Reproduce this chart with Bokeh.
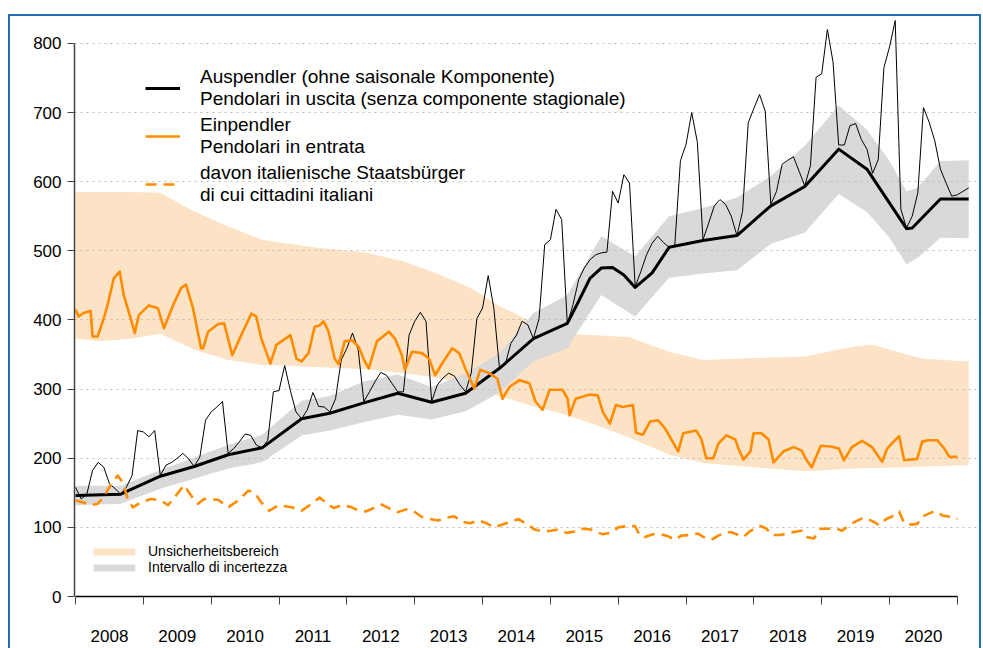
import numpy as np
from bokeh.plotting import figure
from bokeh.models import Range1d, FixedTicker, Legend, LegendItem
from bokeh.embed import file_html
from bokeh.resources import INLINE

FONT = "Liberation Sans"
BLUE = "#1f6db4"
ORANGE = "#FF8C00"

# ---------------- data ----------------
years = list(range(2008, 2021))

# Auspendler, monthly raw values Jan 2008 .. Mar 2021
out_raw = [
    158, 141, 148, 182, 194, 187, 163, 156, 148, 158, 175, 240,   # 2008
    238, 231, 240, 175, 190, 194, 200, 207, 199, 188, 202, 255,   # 2009
    267, 274, 282, 207, 214, 224, 235, 233, 219, 215, 226, 296,   # 2010
    298, 334, 298, 267, 257, 270, 295, 275, 274, 267, 286, 342,   # 2011
    359, 381, 357, 282, 296, 311, 324, 320, 308, 296, 296, 378,   # 2012
    398, 411, 398, 282, 306, 316, 323, 319, 306, 296, 323, 402,   # 2013
    417, 464, 417, 330, 335, 366, 378, 398, 393, 373, 402, 509,   # 2014
    516, 560, 545, 394, 422, 458, 475, 487, 494, 497, 498, 586,   # 2015
    569, 610, 598, 448, 470, 494, 511, 521, 512, 505, 507, 630,   # 2016
    654, 700, 657, 516, 540, 565, 574, 567, 550, 522, 557, 685,   # 2017
    706, 726, 702, 567, 586, 625, 631, 636, 615, 594, 623, 751,   # 2018
    756, 820, 773, 653, 653, 681, 684, 661, 647, 612, 632, 765,   # 2019
    795, 833, 560, 533, 550, 584, 707, 686, 659, 618, 598, 579,   # 2020
    581, 586, 591,                                                # 2021
]
raw_month = list(range(len(out_raw)))

# Auspendler without seasonal component (month index from Jan 2008)
trend_month = [0, 8, 15, 21, 27, 33, 40, 45, 51, 57, 63, 69, 75, 81, 87, 89, 91, 93, 95,
               97, 99, 102, 105, 111, 117, 123, 129, 135, 140, 147, 148, 153, 158]
trend_value = [146, 148, 174, 188, 205, 215, 257, 265, 280, 294, 281, 294, 330, 373, 395, 427,
               460, 475, 476, 465, 447, 468, 505, 515, 522, 565, 593, 647, 618, 532, 533, 575, 575]

# Uncertainty range of the Auspendler trend (grey)
grey_month = [0, 8, 15, 27, 33, 40, 45, 51, 57, 63, 69, 75, 81, 87, 93, 99, 105, 111, 117,
              123, 129, 135, 140, 144, 147, 149, 153, 158]
grey_high = [160, 160, 183, 219, 234, 283, 290, 311, 321, 303, 322, 352, 410, 436, 521, 492,
             550, 562, 577, 608, 652, 710, 675, 630, 586, 591, 630, 631]
grey_low = [132, 134, 156, 185, 194, 233, 240, 252, 263, 256, 268, 295, 340, 359, 436, 405,
            461, 467, 472, 510, 526, 582, 556, 519, 480, 490, 519, 518]

# Uncertainty range of the Einpendler (peach)
peach_month = [0, 4, 10, 15, 21, 27, 33, 42, 51, 58, 63, 70, 75, 81, 87, 92, 98, 105, 111,
               120, 129, 138, 141, 147, 150, 158]
peach_high = [585, 585, 585, 584, 557, 535, 516, 505, 498, 485, 470, 446, 420, 396, 380, 378,
              375, 354, 342, 345, 347, 362, 364, 350, 344, 340]
peach_low = [373, 369, 373, 380, 357, 342, 335, 332, 329, 323, 318, 306, 290, 275, 262, 248,
             230, 205, 193, 187, 181, 185, 186, 187, 188, 190]

# Einpendler (decimal year, value)
in_time = [2008.000, 2008.044, 2008.118, 2008.222, 2008.252, 2008.326, 2008.415, 2008.474,
           2008.563, 2008.651, 2008.711, 2008.814, 2008.874, 2008.933, 2009.081, 2009.214,
           2009.303, 2009.451, 2009.555, 2009.629, 2009.732, 2009.851, 2009.880, 2009.954,
           2010.102, 2010.191, 2010.310, 2010.443, 2010.591, 2010.665, 2010.739, 2010.872,
           2010.961, 2011.168, 2011.257, 2011.331, 2011.435, 2011.524, 2011.598, 2011.657,
           2011.731, 2011.820, 2011.879, 2011.968, 2012.072, 2012.175, 2012.264, 2012.323,
           2012.442, 2012.619, 2012.708, 2012.812, 2012.856, 2012.960, 2013.108, 2013.212,
           2013.301, 2013.404, 2013.552, 2013.656, 2013.745, 2013.878, 2013.967, 2014.100,
           2014.219, 2014.293, 2014.396, 2014.544, 2014.692, 2014.781, 2014.885, 2014.988,
           2015.181, 2015.255, 2015.284, 2015.373, 2015.580, 2015.699, 2015.773, 2015.877,
           2015.966, 2016.069, 2016.217, 2016.262, 2016.365, 2016.469, 2016.588, 2016.691,
           2016.884, 2016.958, 2017.150, 2017.224, 2017.298, 2017.402, 2017.476, 2017.594,
           2017.728, 2017.772, 2017.846, 2017.950, 2017.995, 2018.113, 2018.216, 2018.290,
           2018.438, 2018.586, 2018.705, 2018.764, 2018.853, 2018.986, 2019.134, 2019.253,
           2019.327, 2019.445, 2019.594, 2019.742, 2019.891, 2019.965, 2020.039, 2020.141,
           2020.215, 2020.407, 2020.482, 2020.571, 2020.704, 2020.807, 2020.881, 2021.000]
in_value = [415, 405, 410, 413, 376, 376, 402, 422, 460, 470, 436, 402, 381, 407, 421, 417,
            388, 424, 446, 451, 417, 359, 359, 383, 394, 395, 349, 378, 409, 405, 373, 337,
            364, 378, 344, 340, 352, 390, 392, 398, 383, 344, 336, 369, 371, 361, 340, 330,
            369, 383, 373, 349, 328, 354, 352, 344, 320, 337, 359, 352, 330, 301, 328, 323,
            315, 286, 303, 313, 308, 282, 270, 299, 299, 286, 262, 286, 292, 291, 267, 250,
            277, 274, 277, 237, 234, 253, 255, 243, 210, 236, 240, 228, 200, 200, 221, 233,
            227, 214, 198, 210, 236, 236, 227, 194, 210, 216, 211, 199, 187, 218, 217, 214,
            197, 216, 225, 216, 195, 214, 222, 232, 197, 199, 224, 226, 226, 214, 202, 202]

# davon italienische Staatsbuerger (decimal year, value)
it_time = [2008.000, 2008.118, 2008.222, 2008.326, 2008.415, 2008.518, 2008.622, 2008.696,
           2008.770, 2008.844, 2008.962, 2009.110, 2009.259, 2009.362, 2009.481, 2009.599,
           2009.703, 2009.806, 2009.895, 2010.102, 2010.250, 2010.399, 2010.547, 2010.635,
           2010.739, 2010.858, 2010.991, 2011.183, 2011.331, 2011.450, 2011.598, 2011.702,
           2011.805, 2011.924, 2012.042, 2012.161, 2012.279, 2012.397, 2012.516, 2012.634,
           2012.753, 2012.871, 2012.990, 2013.108, 2013.227, 2013.345, 2013.463, 2013.582,
           2013.700, 2013.819, 2013.937, 2014.056, 2014.174, 2014.293, 2014.411, 2014.529,
           2014.648, 2014.766, 2014.885, 2015.003, 2015.122, 2015.240, 2015.359, 2015.477,
           2015.595, 2015.714, 2015.773, 2015.921, 2015.995, 2016.143, 2016.247, 2016.321,
           2016.395, 2016.513, 2016.632, 2016.736, 2016.839, 2016.928, 2017.061, 2017.180,
           2017.254, 2017.372, 2017.476, 2017.594, 2017.668, 2017.772, 2017.846, 2017.950,
           2018.098, 2018.187, 2018.261, 2018.394, 2018.512, 2018.631, 2018.705, 2018.779,
           2018.883, 2018.986, 2019.134, 2019.223, 2019.297, 2019.430, 2019.594, 2019.683,
           2019.787, 2019.845, 2019.950, 2020.024, 2020.141, 2020.215, 2020.319, 2020.407,
           2020.511, 2020.630, 2020.704, 2020.778, 2020.852, 2020.926, 2021.000]
it_value = [139, 136, 132, 134, 144, 161, 175, 165, 141, 129, 136, 141, 139, 132, 146, 161,
            146, 134, 141, 140, 129, 139, 153, 151, 136, 124, 132, 129, 124, 132, 143, 135,
            128, 132, 130, 125, 123, 128, 133, 127, 122, 126, 123, 115, 112, 110, 114, 116,
            108, 106, 110, 106, 100, 104, 108, 112, 105, 97, 94, 95, 97, 92, 94, 98,
            97, 92, 90, 93, 100, 102, 102, 88, 86, 90, 90, 87, 82, 88, 89, 91,
            86, 82, 88, 93, 93, 89, 86, 95, 102, 98, 89, 89, 92, 94, 95, 86,
            84, 98, 98, 98, 95, 105, 113, 112, 107, 103, 112, 115, 123, 106, 104, 105,
            117, 122, 123, 117, 116, 114, 112]

y_ticks = [0, 100, 200, 300, 400, 500, 600, 700, 800]

label_out = "Auspendler (ohne saisonale Komponente)\nPendolari in uscita (senza componente stagionale)"
label_in = "Einpendler\nPendolari in entrata"
label_it = "davon italienische Staatsbürger\ndi cui cittadini italiani"
label_peach = "Unsicherheitsbereich"
label_grey = "Intervallo di incertezza"

# ---------------- figure ----------------
def m2t(ms):
    return [2008 + m / 12 for m in ms]

W, H = 973, 634
p = figure(width=W, height=H,
           x_range=Range1d(2007.985, 2021.370), y_range=Range1d(0, 837.4),
           output_backend="svg", toolbar_location=None,
           min_border_left=64, min_border_right=1, min_border_top=1, min_border_bottom=54)
p.outline_line_color = None
p.background_fill_color = "white"
p.border_fill_color = "white"
# blue frame of the graphic (open at the bottom, which lies at the window's edge)
p.styles = {"border-top": f"2px solid {BLUE}", "border-left": f"2px solid {BLUE}",
            "border-right": f"2px solid {BLUE}", "margin-top": "14px", "margin-left": "8px"}

peach = p.varea(x=m2t(peach_month), y1=peach_low, y2=peach_high,
                fill_color="#FDE3C5", level="image")
grey = p.varea(x=m2t(grey_month), y1=grey_low, y2=grey_high,
               fill_color="#D9D9D9", level="image")

raw = p.line(m2t(raw_month), out_raw, line_color="black", line_width=1)
trend = p.line(m2t(trend_month), trend_value, line_color="black", line_width=3,
               line_join="round")
inl = p.line(in_time, in_value, line_color=ORANGE, line_width=2.6, line_join="round")
itl = p.line(it_time, it_value, line_color=ORANGE, line_width=2.6, line_dash="11 7",
             line_join="round")

# grid
p.xgrid.visible = False
p.ygrid.ticker = FixedTicker(ticks=y_ticks[1:])
p.ygrid.grid_line_color = "#bdbdbd"
p.ygrid.grid_line_dash = "2 4"
p.ygrid.grid_line_width = 1

# y axis
ya = p.yaxis[0]
ya.ticker = FixedTicker(ticks=y_ticks)
ya.bounds = (0, 800)
ya.axis_line_color = "#444444"
ya.axis_line_width = 1.5
ya.major_tick_line_color = "#444444"
ya.major_tick_in = 0
ya.major_tick_out = 7
ya.minor_tick_line_color = None
ya.major_label_standoff = 6
ya.major_label_text_font = FONT
ya.major_label_text_font_size = "17px"
ya.major_label_text_color = "black"

# x axis: labels centred in each year, tick marks at year boundaries
xa = p.xaxis[0]
mids = [y + 0.5 for y in years]
xa.ticker = FixedTicker(ticks=mids, minor_ticks=years + [years[-1] + 1])
xa.major_label_overrides = {m: str(y) for m, y in zip(mids, years)}
xa.bounds = (2008, 2021)
xa.axis_line_color = "black"
xa.axis_line_width = 1.5
xa.major_tick_line_color = None
xa.major_tick_out = 0
xa.major_tick_in = 0
xa.minor_tick_line_color = "#444444"
xa.minor_tick_line_width = 1
xa.minor_tick_out = 8
xa.minor_tick_in = 0
xa.major_label_standoff = 25
xa.major_label_text_font = FONT
xa.major_label_text_font_size = "17px"
xa.major_label_text_color = "black"

# legends
leg1 = Legend(items=[LegendItem(label=label_out, renderers=[trend]),
                     LegendItem(label=label_in, renderers=[inl]),
                     LegendItem(label=label_it, renderers=[itl])],
              location=(71, 389), orientation="vertical",
              glyph_width=35, glyph_height=46, label_standoff=20, spacing=2,
              padding=0, margin=0, border_line_color=None, background_fill_alpha=0,
              label_text_font=FONT, label_text_font_size="19px",
              label_text_line_height=1.25, label_text_color="black")
leg2 = Legend(items=[LegendItem(label=label_peach, renderers=[peach]),
                     LegendItem(label=label_grey, renderers=[grey])],
              location=(14, 21), orientation="vertical",
              glyph_width=52, glyph_height=9, label_standoff=8, spacing=0,
              label_height=16,
              padding=0, margin=0, border_line_color=None, background_fill_alpha=0,
              label_text_font=FONT, label_text_font_size="14px", label_text_color="black")
p.add_layout(leg1, "center")
p.add_layout(leg2, "center")

open("out.html", "w").write(file_html(p, INLINE))
